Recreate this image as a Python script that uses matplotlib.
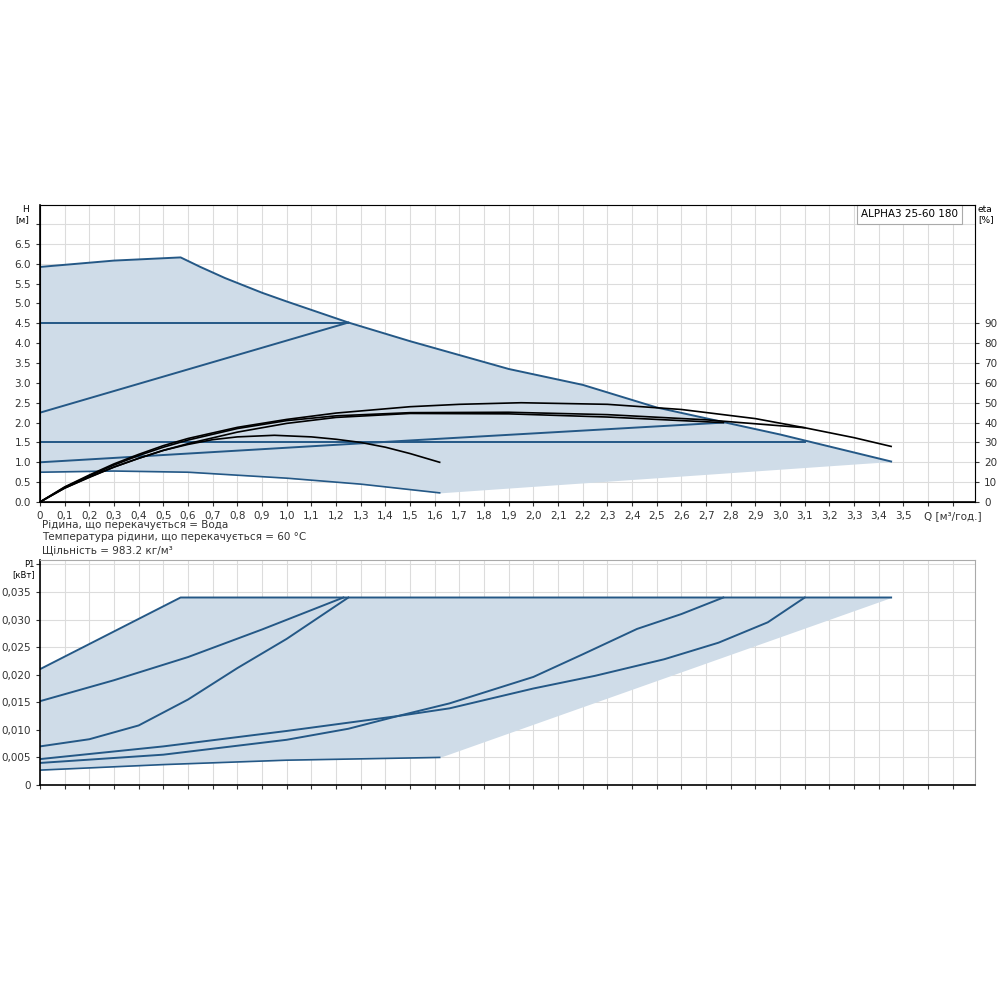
import matplotlib.pyplot as plt
import numpy as np

# H-Q field (upper / lower boundary of the shaded area)
q_top = [0, 0.3, 0.57, 0.65, 0.75, 0.9, 1.0, 1.25, 1.5, 1.7, 1.9, 2.2, 2.5, 3.0, 3.45]
h_top = [5.92, 6.08, 6.16, 5.92, 5.64, 5.27, 5.05, 4.52, 4.05, 3.7, 3.35, 2.95, 2.38, 1.7, 1.02]
q_low = [0, 0.3, 0.6, 1.0, 1.3, 1.62]
h_low = [0.75, 0.78, 0.75, 0.6, 0.45, 0.23]

# control lines (blue)
q_cp1 = [0, 1.25]
h_cp1 = [2.25, 4.52]
q_ch1 = [0, 1.25]
h_ch1 = [4.5, 4.5]
q_cp2 = [0, 1.5, 2.77]
h_cp2 = [1.0, 1.55, 2.0]
q_ch2 = [0, 3.1]
h_ch2 = [1.5, 1.5]

# black curves
q_e1 = [0, 0.1, 0.2, 0.3, 0.4, 0.5, 0.6, 0.7, 0.8, 0.95, 1.1, 1.2, 1.3, 1.4, 1.5, 1.62]
h_e1 = [0, 0.35, 0.62, 0.88, 1.1, 1.3, 1.45, 1.57, 1.64, 1.68, 1.64, 1.58, 1.5, 1.38, 1.22, 1.0]
q_e2 = [0, 0.1, 0.2, 0.3, 0.4, 0.5, 0.6, 0.8, 1.0, 1.2, 1.5, 1.7, 1.95, 2.3, 2.6, 2.9, 3.1, 3.3, 3.45]
h_e2 = [0, 0.38, 0.68, 0.96, 1.2, 1.42, 1.6, 1.88, 2.08, 2.24, 2.4, 2.46, 2.5, 2.46, 2.33, 2.1, 1.87, 1.62, 1.4]
q_e3 = [0, 0.1, 0.2, 0.3, 0.4, 0.5, 0.6, 0.8, 1.0, 1.2, 1.5, 1.9, 2.3, 2.7, 3.1]
h_e3 = [0, 0.37, 0.66, 0.93, 1.17, 1.38, 1.56, 1.85, 2.05, 2.17, 2.25, 2.26, 2.2, 2.07, 1.87]
q_e4 = [0, 0.1, 0.2, 0.3, 0.4, 0.5, 0.6, 0.8, 1.0, 1.2, 1.5, 1.9, 2.3, 2.6, 2.77]
h_e4 = [0, 0.35, 0.63, 0.88, 1.1, 1.3, 1.47, 1.76, 1.98, 2.13, 2.23, 2.22, 2.14, 2.05, 2.0]

# P1-Q
p_top_q = [0, 0.57, 3.45]
p_top = [0.021, 0.034, 0.034]
p_low_q = [0, 0.5, 1.0, 1.62]
p_low = [0.0027, 0.0037, 0.0045, 0.005]
p_a_q = [0, 0.3, 0.6, 0.9, 1.23]
p_a = [0.0152, 0.019, 0.0232, 0.0282, 0.034]
p_b_q = [0, 0.2, 0.4, 0.6, 0.8, 1.0, 1.1, 1.25]
p_b = [0.007, 0.0083, 0.0108, 0.0155, 0.0212, 0.0265, 0.0295, 0.034]
p_c_q = [0, 0.5, 1.0, 1.25, 1.45, 1.66, 2.0, 2.2, 2.42, 2.6, 2.77]
p_c = [0.004, 0.0055, 0.0082, 0.0102, 0.0125, 0.0148, 0.0196, 0.0237, 0.0283, 0.031, 0.034]
p_d_q = [0, 0.5, 1.0, 1.45, 1.66, 2.0, 2.25, 2.53, 2.75, 2.95, 3.1]
p_d = [0.0047, 0.007, 0.0098, 0.0125, 0.0139, 0.0175, 0.0198, 0.0228, 0.0258, 0.0295, 0.034]

BLUE = "#245886"
FILL = "#cfdce8"
GRID = "#dcdcdc"
FS = 7.5

fig = plt.figure(figsize=(10, 10), dpi=100)

def frame(ax):
    ax.set_xlim(0, 3.79)
    ax.set_xticks(np.arange(0, 3.75, 0.1))
    ax.grid(True, color=GRID, lw=0.8)
    ax.set_axisbelow(True)
    for s in ["top", "right"]:
        ax.spines[s].set_color("#aaaaaa")
    for s in ["left", "bottom"]:
        ax.spines[s].set_linewidth(1.2)
    ax.tick_params(labelsize=FS, length=3, colors="#333333")

# ---- top panel ----
ax = fig.add_axes([0.04, 0.498, 0.935, 0.297])
frame(ax)
ax.set_ylim(0, 7.48)
ax.set_yticks(np.arange(0, 7.01, 0.5))
ax.set_yticklabels([f"{v:.1f}" if v < 6.8 else "" for v in np.arange(0, 7.01, 0.5)])
xl = [f"{v:.1f}".replace(".", ",") for v in np.arange(0, 3.75, 0.1)]
xl = [l if i <= 35 else "" for i, l in enumerate(xl)]
xl[0] = "0"
xl[37] = "Q [м³/год.]"
ax.set_xticklabels(xl)

# shaded area
low_q = np.concatenate([q_low, [3.45]])
low_h = np.concatenate([h_low, [h_top[-1]]])
qq = np.linspace(0, 3.45, 400)
ax.fill_between(qq, np.interp(qq, low_q, low_h), np.interp(qq, q_top, h_top),
                color=FILL, lw=0)
ax.plot(q_top, h_top, color=BLUE, lw=1.4)
ax.plot(q_low, h_low, color=BLUE, lw=1.2)
for qx, hy in [(q_cp1, h_cp1), (q_ch1, h_ch1), (q_cp2, h_cp2), (q_ch2, h_ch2)]:
    ax.plot(qx, hy, color=BLUE, lw=1.4)
for qx, hy in [(q_e1, h_e1), (q_e2, h_e2), (q_e3, h_e3), (q_e4, h_e4)]:
    ax.plot(qx, hy, color="black", lw=1.2)

ax.text(-0.012, 1.0, "H\n[м]", transform=ax.transAxes, ha="right", va="top", fontsize=FS - 1)
ax.text(0.982, 0.985, "ALPHA3 25-60 180", transform=ax.transAxes, ha="right", va="top",
        fontsize=FS, bbox=dict(facecolor="white", edgecolor="#aaaaaa", lw=0.8, pad=3))

ax2 = ax.twinx()
ax2.set_ylim(0, 149.6)
ax2.set_yticks(np.arange(0, 91, 10))
ax2.tick_params(labelsize=FS, length=3, colors="#333333")
ax2.text(1.003, 1.0, "eta\n[%]", transform=ax.transAxes, ha="left", va="top", fontsize=FS - 1)

info = ["Рідина, що перекачується = Вода",
        "Температура рідини, що перекачується = 60 °C",
        "Щільність = 983.2 кг/м³"]
for i, t in enumerate(info):
    fig.text(0.042, 0.475 - i * 0.0125, t, fontsize=FS, color="#333333", va="center")

# ---- bottom panel ----
bx = fig.add_axes([0.04, 0.215, 0.935, 0.225])
frame(bx)
bx.set_xticklabels([])
bx.set_ylim(0, 0.0408)
yt = np.arange(0, 0.0401, 0.005)
bx.set_yticks(yt)
bx.set_yticklabels(["0"] + [f"{v:.3f}".replace(".", ",") for v in yt[1:-1]] + [""])
pq = np.linspace(0, 3.45, 400)
plow_q = np.concatenate([p_low_q, [3.45]])
plow = np.concatenate([p_low, [0.034]])
bx.fill_between(pq, np.interp(pq, plow_q, plow), np.interp(pq, p_top_q, p_top),
                color=FILL, lw=0)
bx.plot(p_top_q, p_top, color=BLUE, lw=1.4)
bx.plot(p_low_q, p_low, color=BLUE, lw=1.2)
for qx, py in [(p_a_q, p_a), (p_b_q, p_b), (p_c_q, p_c), (p_d_q, p_d)]:
    bx.plot(qx, py, color=BLUE, lw=1.4)
bx.text(-0.006, 1.0, "P1\n[кВт]", transform=bx.transAxes, ha="right", va="top", fontsize=FS - 1.5)

fig.savefig("out.png", dpi=100, facecolor="white")
